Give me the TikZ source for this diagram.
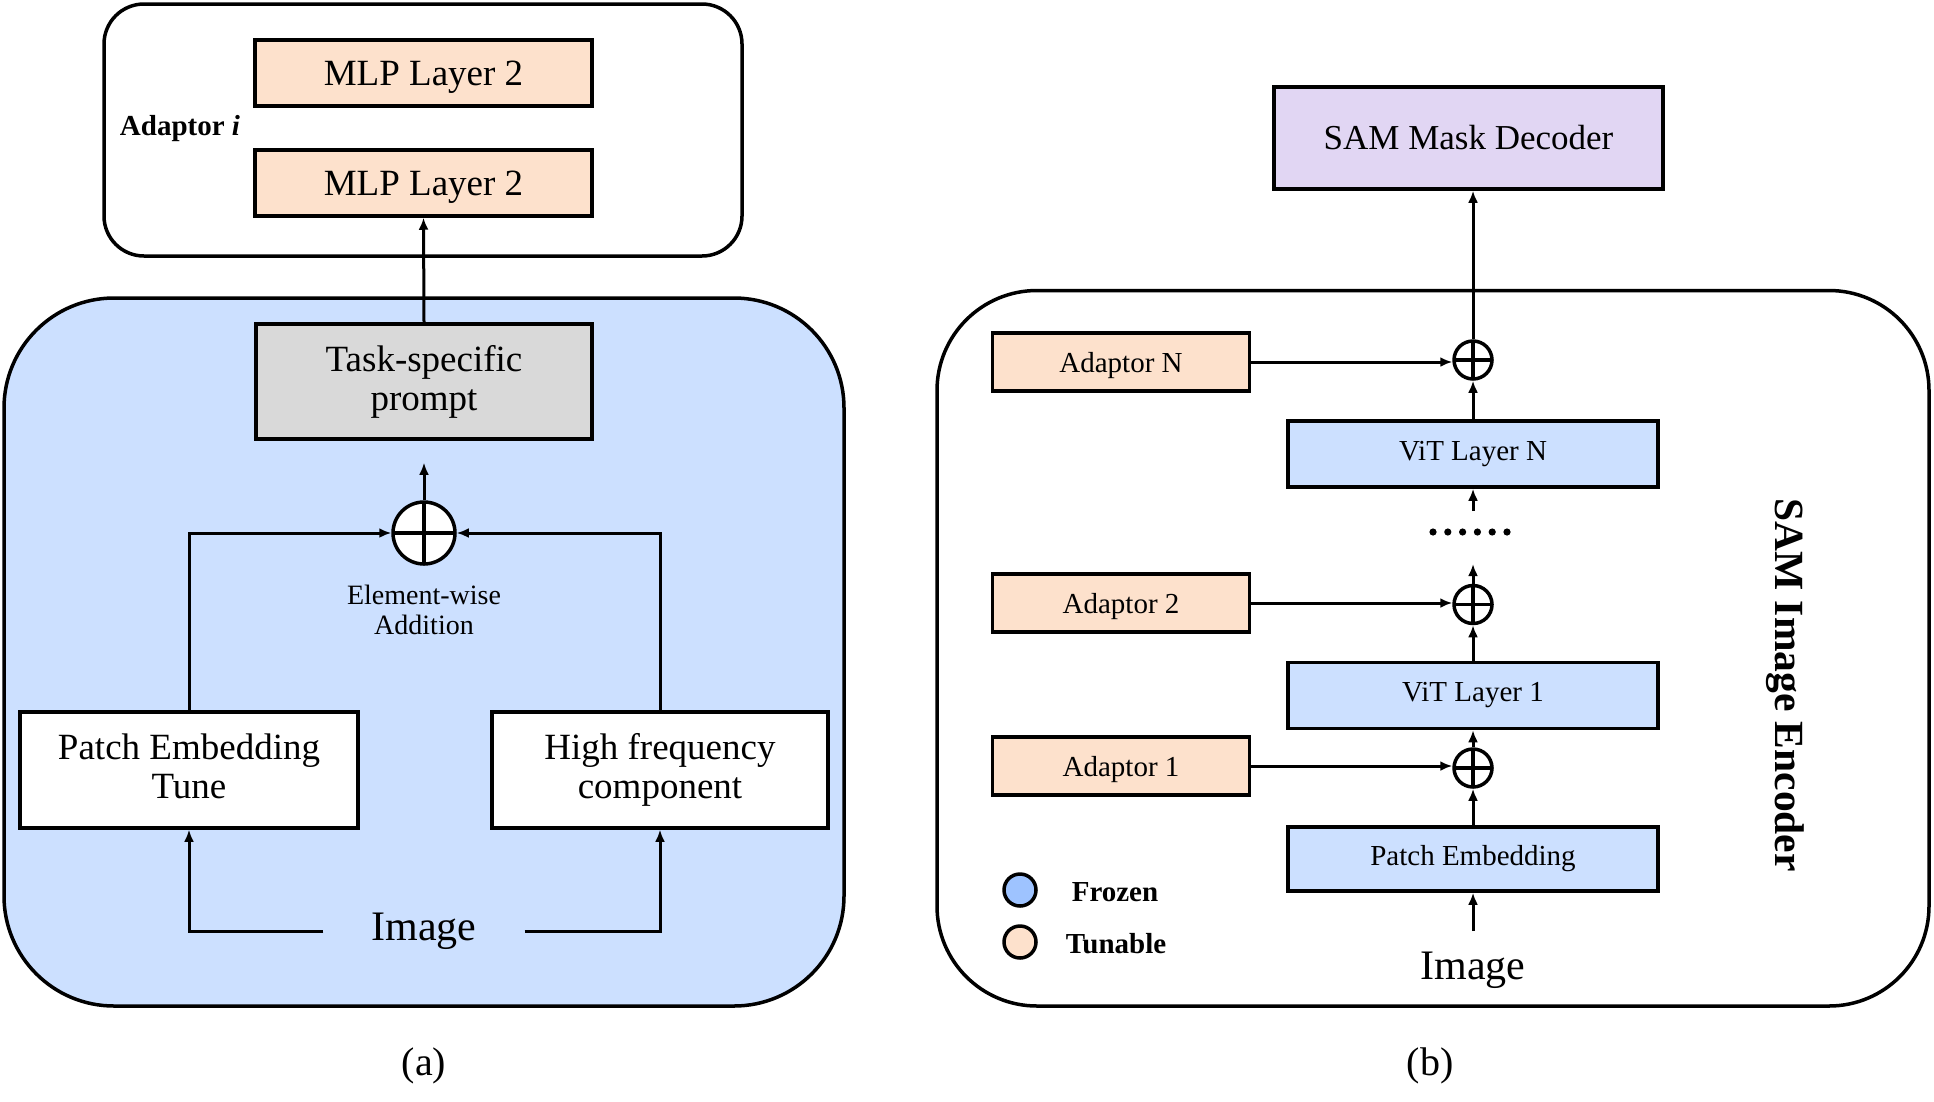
\documentclass[tikz,border=0pt]{standalone}
\usepackage{fontspec}
\setmainfont{Liberation Serif}
\usetikzlibrary{arrows.meta}
\definecolor{pblue}{RGB}{204,224,255}
\definecolor{peach}{RGB}{253,225,204}
\definecolor{pgrey}{RGB}{217,217,217}
\definecolor{ppurple}{RGB}{225,214,243}
\definecolor{frz}{RGB}{158,195,255}
\tikzset{
  box/.style={draw, line width=3.5pt, inner sep=0pt, align=center},
  arr/.style={line width=3pt, -{Latex[length=12pt,width=10pt]}},
  plus/.style={circle, draw, fill=white, line width=3.5pt, inner sep=0pt, minimum size=#1,
    path picture={\draw[line width=3.5pt] (path picture bounding box.north) -- (path picture bounding box.south)
      (path picture bounding box.west) -- (path picture bounding box.east);}},
  big/.style={font=\fontsize{37}{39}\selectfont},
  mid/.style={font=\fontsize{29}{31}\selectfont},
}
\begin{document}
\begin{tikzpicture}[x=1pt,y=-1pt]
\useasboundingbox (0,0) rectangle (1934,1101);
% ---------- panel (a) ----------
\draw[line width=3.5pt, rounded corners=40pt] (104,4) rectangle (742,256);
\draw[line width=3.5pt, fill=pblue, rounded corners=110pt] (4,298) rectangle (844,1006);
\node[box, fill=peach, big, text depth=0pt, minimum width=337pt, minimum height=66pt] (mlpb) at (423.5,73) {MLP Layer 2};
\node[box, fill=peach, big, text depth=0pt, minimum width=337pt, minimum height=66pt] (mlpa) at (423.5,183) {MLP Layer 2};
\node[font=\fontsize{29}{31}\selectfont\bfseries] (adi) at (180,129) {Adaptor \textit{i}};
\node[box, fill=pgrey, big, minimum width=336pt, minimum height=115pt] (prompt) at (424,381.5) {Task-specific\\prompt};
\node[plus=62pt] (plusA) at (424,533) {};
\node[align=center, font=\fontsize{28}{30.5}\selectfont] (ewa) at (424,610) {Element-wise\\Addition};
\node[box, fill=white, big, text depth=8pt, minimum width=338pt, minimum height=116pt] (pet) at (189,770) {Patch Embedding\\Tune};
\node[box, fill=white, big, minimum width=336pt, minimum height=116pt] (hf) at (660,770) {High frequency\\component};
\node[font=\fontsize{42}{44}\selectfont, inner xsep=48pt] (imgA) at (424,931) {Image};
\node[font=\fontsize{40}{42}\selectfont] (capA) at (424,1066) {(a)};
\draw[arr] (prompt.north) -- (mlpa.south);
\draw[arr, shorten >=22pt] (plusA.north) -- (prompt.south);
\draw[arr] (pet.north) |- (plusA.west);
\draw[arr] (hf.north) |- (plusA.east);
\draw[arr] (imgA.west) -| (pet.south);
\draw[arr] (imgA.east) -| (hf.south);
% ---------- panel (b) ----------
\draw[line width=3.5pt, rounded corners=100pt] (937,290.5) rectangle (1929,1006);
\node[box, fill=ppurple, font=\fontsize{35}{37}\selectfont, minimum width=389pt, minimum height=102pt] (dec) at (1468.5,138) {SAM Mask Decoder};
\node[box, fill=peach, mid, text depth=0pt, minimum width=257pt, minimum height=58pt] (adN) at (1121,362) {Adaptor N};
\node[plus=38pt] (plusN) at (1473,360) {};
\node[box, fill=pblue, mid, minimum width=370pt, minimum height=66pt] (vitN) at (1473,454) {ViT Layer N};
\coordinate (dotTop) at (1473,511);
\coordinate (dotBot) at (1473,564);
\foreach \k in {0,...,5} {\fill (1433+\k*14.8,532) circle (3.6pt);}
\node[box, fill=peach, mid, text depth=0pt, minimum width=257pt, minimum height=58pt] (ad2) at (1121,603) {Adaptor 2};
\node[plus=38pt] (plus2) at (1473,604.5) {};
\node[box, fill=pblue, mid, minimum width=370pt, minimum height=66pt] (vit1) at (1473,695.5) {ViT Layer 1};
\node[box, fill=peach, mid, text depth=0pt, minimum width=257pt, minimum height=58pt] (ad1) at (1121,766) {Adaptor 1};
\node[plus=38pt] (plus1) at (1473,768) {};
\node[box, fill=pblue, mid, minimum width=370pt, minimum height=64pt] (patchB) at (1473,859) {Patch Embedding};
\node[font=\fontsize{42}{44}\selectfont] (imgB) at (1473,970) {Image};
\node[font=\fontsize{40}{42}\selectfont] (capB) at (1430,1066) {(b)};
\node[circle, draw, line width=3.5pt, fill=frz, minimum size=32pt, inner sep=0pt] (lf) at (1020,890) {};
\node[circle, draw, line width=3.5pt, fill=peach, minimum size=32pt, inner sep=0pt] (lt) at (1020,942) {};
\node[font=\fontsize{29}{31}\selectfont\bfseries] (lft) at (1115,892) {Frozen};
\node[font=\fontsize{29}{31}\selectfont\bfseries] (ltt) at (1116,944) {Tunable};
\node[font=\fontsize{41.5}{44}\selectfont\bfseries, rotate=-90] (enc) at (1785,685) {SAM Image Encoder};
\draw[arr] (plusN.north) -- (plusN.north |- dec.south);
\draw[arr] (vitN.north) -- (plusN.south);
\draw[arr] (adN.east) -- (adN.east -| plusN.west);
\draw[arr] (dotTop) -- (vitN.south);
\draw[arr] (plus2.north) -- (dotBot);
\draw[arr] (ad2.east) -- (ad2.east -| plus2.west);
\draw[arr] (vit1.north) -- (plus2.south);
\draw[arr] (plus1.north) -- (vit1.south);
\draw[arr] (ad1.east) -- (ad1.east -| plus1.west);
\draw[arr] (patchB.north) -- (plus1.south);
\draw[arr, shorten <=17pt] (imgB.north) -- (patchB.south);
\end{tikzpicture}
\end{document}
